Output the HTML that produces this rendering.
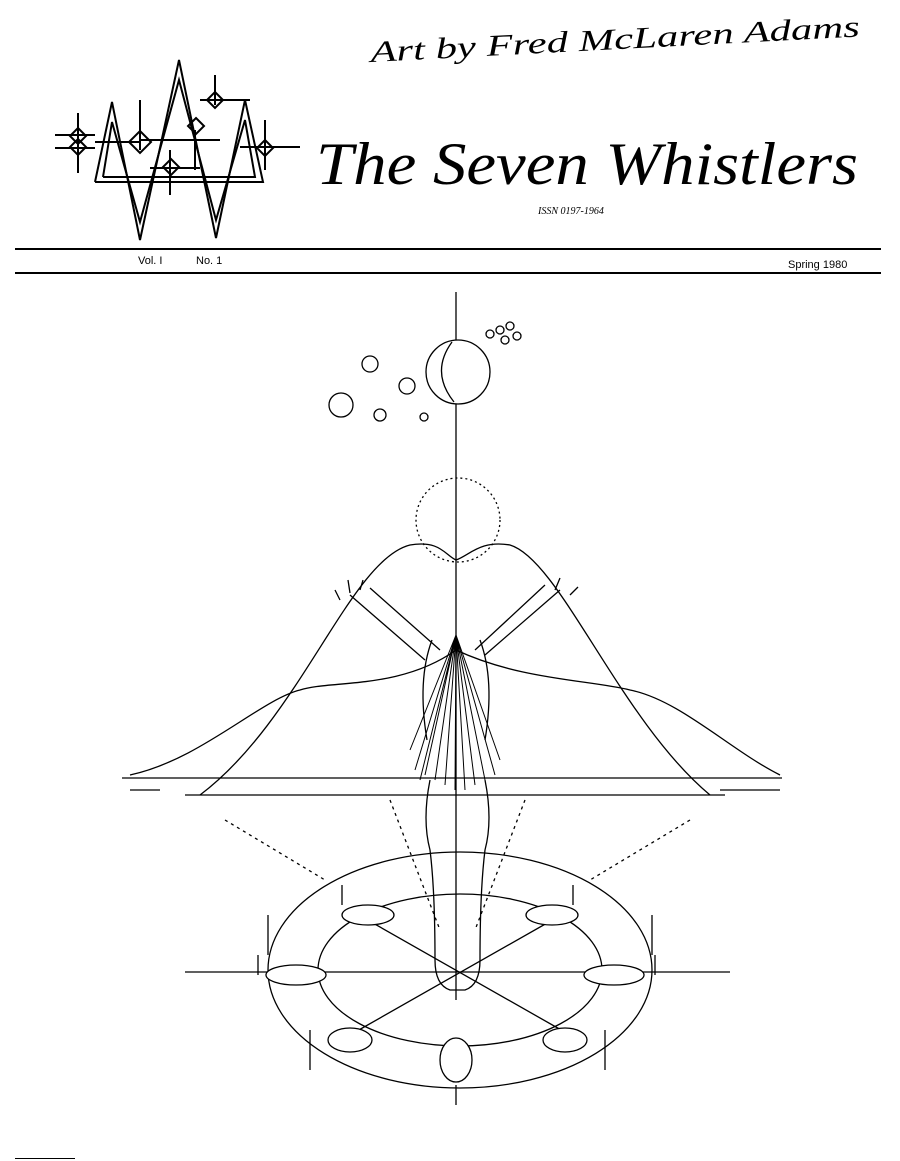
<!DOCTYPE html>
<html><head><style>
body{margin:0;background:#fff}
svg{display:block}
.s{font-family:"Liberation Serif",serif}
.a{font-family:"Liberation Sans",sans-serif}
</style></head><body>
<svg width="900" height="1161" viewBox="0 0 900 1161" xmlns="http://www.w3.org/2000/svg">
<rect width="900" height="1161" fill="#fff"/>
<text class="s" x="370" y="50" font-size="30" font-style="italic" fill="#000" textLength="490" lengthAdjust="spacingAndGlyphs" transform="rotate(-3 600 40)">Art by Fred McLaren Adams</text>
<g stroke="#000" stroke-width="2" fill="none">
<polyline points="95,182 112,102 140,240 179,60 216,238 245,100 263,182 95,182"/>
<polyline points="103,177 112,122 140,222 179,80 216,220 245,120 255,177 103,177"/>
<path d="M55,135h40M55,148h40M78,113v60M95,142h45M140,140h80M140,100v50M150,168h50M170,150v45M200,100h50M215,75v30M195,130v40M240,147h60M265,120v50"/>
<path d="M78,128l8,8-8,8-8-8zM78,139l8,8-8,8-8-8zM140,131l11,11-11,11-11-11zM215,92l8,8-8,8-8-8zM196,118l8,8-8,8-8-8zM171,159l8,8-8,8-8-8zM265,140l8,8-8,8-8-8z"/>
</g>
<text class="s" x="316" y="184" font-size="60" font-style="italic" fill="#000" textLength="542" lengthAdjust="spacingAndGlyphs">The Seven Whistlers</text>
<text class="s" x="538" y="214" font-size="10" font-style="italic" fill="#000">ISSN  0197-1964</text>
<rect x="15" y="248" width="866" height="2" fill="#000"/>
<rect x="15" y="272" width="866" height="2" fill="#000"/>
<text class="a" x="138" y="264" font-size="11" fill="#000">Vol. I</text>
<text class="a" x="196" y="264" font-size="11" fill="#000">No. 1</text>
<text class="a" x="788" y="268" font-size="11" fill="#000">Spring 1980</text>
<g stroke="#000" stroke-width="1.3" fill="none">
<line x1="456" y1="292" x2="456" y2="1000"/>
<circle cx="458" cy="372" r="32" fill="#fff"/>
<path d="M452,342 q-22,30 2,60" />
<circle cx="370" cy="364" r="8"/><circle cx="407" cy="386" r="8"/><circle cx="341" cy="405" r="12"/><circle cx="380" cy="415" r="6"/><circle cx="424" cy="417" r="4"/>
<circle cx="490" cy="334" r="4"/><circle cx="500" cy="330" r="4"/><circle cx="510" cy="326" r="4"/><circle cx="517" cy="336" r="4"/><circle cx="505" cy="340" r="4"/>
<circle cx="458" cy="520" r="42" stroke-dasharray="2,3"/>
<path d="M200,795 C300,720 350,560 410,545 C440,540 445,555 456,560 C470,555 480,540 510,545 C560,560 620,720 710,795"/>
<path d="M130,775 C200,760 260,700 300,690 C330,680 400,690 456,650 C520,680 590,680 630,690 C680,700 730,750 780,775"/>
<path d="M122,778h660M185,795h540M130,790h30M720,790h60"/>
<path d="M225,820l100,60M690,820l-100,60M390,800l50,130M525,800l-50,130" stroke-dasharray="3,4"/>
<path d="M350,595 L425,660 M370,588 L440,650 M560,590 L485,655 M545,585 L475,650"/>
<path d="M340,600 l-5,-10 M350,593 l-2,-13 M360,590 l3,-10 M555,590 l5,-12 M570,595 l8,-8"/>
<g stroke-width="1">
<path d="M456,635 L415,770 M456,635 L425,775 M456,635 L435,780 M456,635 L445,785 M456,635 L455,790 M456,635 L465,790 M456,635 L475,785 M456,635 L485,780 M456,635 L495,775 M456,635 L500,760 M456,635 L410,750 M456,635 L420,780"/>
</g>
<path d="M432,640 q-15,40 -5,100 M480,640 q15,40 5,100"/>
<path d="M430,780 q-8,40 0,70 q5,40 5,110 q0,25 15,30 h15 q15,-5 15,-30 q0,-70 5,-110 q8,-30 0,-70"/>
<ellipse cx="460" cy="970" rx="192" ry="118"/>
<ellipse cx="460" cy="970" rx="142" ry="76"/>
<line x1="185" y1="972" x2="730" y2="972"/>
<path d="M350,910 L570,1035 M570,910 L350,1035" />
<g fill="#fff">
<ellipse cx="368" cy="915" rx="26" ry="10"/><ellipse cx="552" cy="915" rx="26" ry="10"/>
<ellipse cx="296" cy="975" rx="30" ry="10"/><ellipse cx="614" cy="975" rx="30" ry="10"/>
<ellipse cx="350" cy="1040" rx="22" ry="12"/><ellipse cx="565" cy="1040" rx="22" ry="12"/>
<ellipse cx="456" cy="1060" rx="16" ry="22"/>
</g>
<path d="M342,885v20M573,885v20M268,915v40M652,915v40M310,1030v40M605,1030v40M456,1085v20M258,955v20M655,955v20"/>
</g>
<rect x="15" y="1158" width="60" height="1" fill="#000"/>
</svg>
</body></html>
